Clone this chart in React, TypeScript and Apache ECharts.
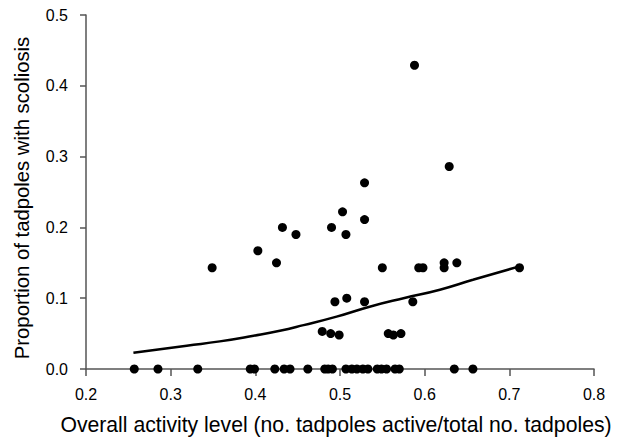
import React, { useEffect, useRef } from "react";
import * as echarts from "echarts";

// Scatter observations: overall activity level vs proportion with scoliosis
const activity = [
  0.257, 0.285, 0.332, 0.394, 0.399, 0.423, 0.434, 0.441, 0.462, 0.482, 0.486, 0.491,
  0.507, 0.514, 0.52, 0.527, 0.533, 0.544, 0.549, 0.555, 0.565, 0.57, 0.635, 0.657,
  0.349, 0.403, 0.425, 0.432, 0.448, 0.479, 0.489, 0.499, 0.49, 0.494, 0.503, 0.507,
  0.508, 0.529, 0.529, 0.529, 0.55, 0.557, 0.563, 0.572, 0.586, 0.588, 0.593, 0.598,
  0.623, 0.623, 0.629, 0.638, 0.712,
];
const scoliosis = [
  0, 0, 0, 0, 0, 0, 0, 0, 0, 0, 0, 0,
  0, 0, 0, 0, 0, 0, 0, 0, 0, 0, 0, 0,
  0.143, 0.167, 0.15, 0.2, 0.19, 0.053, 0.05, 0.048, 0.2, 0.095, 0.222, 0.19,
  0.1, 0.263, 0.211, 0.095, 0.143, 0.05, 0.048, 0.05, 0.095, 0.429, 0.143, 0.143,
  0.15, 0.143, 0.286, 0.15, 0.143,
];

// Fitted curve
const fitX = [0.256, 0.319, 0.358, 0.398, 0.429, 0.457, 0.496, 0.535, 0.575, 0.618, 0.657, 0.712];
const fitY = [0.023, 0.033, 0.039, 0.047, 0.054, 0.062, 0.074, 0.088, 0.1, 0.112, 0.126, 0.145];

const xTitle = "Overall activity level (no. tadpoles active/total no. tadpoles)";
const yTitle = "Proportion of tadpoles with scoliosis";

export default function App() {
  const ref = useRef<HTMLDivElement>(null);
  useEffect(() => {
    if (!ref.current) return;
    const chart = echarts.init(ref.current, undefined, { renderer: "svg" });
    const font = "'Liberation Sans', Arial, sans-serif";
    const axisLine = { show: true, onZero: false, lineStyle: { color: "#555", width: 1.5 } };
    chart.setOption({
      animation: false,
      backgroundColor: "#fff",
      grid: {
        left: 86,
        right: 23,
        top: 15,
        bottom: 69,
        containLabel: false,
        outerBoundsMode: "none",
      },
      graphic: [
        {
          type: "text",
          x: 22,
          y: 198,
          rotation: Math.PI / 2,
          style: {
            text: yTitle,
            fontFamily: font,
            fontSize: 20.3,
            fill: "#000",
            textAlign: "center",
            textVerticalAlign: "middle",
          },
        },
      ],
      xAxis: {
        type: "value",
        min: 0.2,
        max: 0.8,
        interval: 0.1,
        name: xTitle,
        nameLocation: "middle",
        nameGap: 45,
        nameTextStyle: { fontFamily: font, fontSize: 21.2, color: "#000", padding: [0, 8, 0, 0] },
        axisLine,
        axisTick: { show: true, inside: false, length: 7, lineStyle: { color: "#555", width: 1.5 } },
        axisLabel: {
          fontFamily: font,
          fontSize: 16,
          color: "#000",
          margin: 17,
          formatter: (v: number) => v.toFixed(1),
        },
        splitLine: { show: false },
      },
      yAxis: {
        type: "value",
        min: 0,
        max: 0.5,
        interval: 0.1,
        axisLine,
        axisTick: { show: true, inside: false, length: 6, lineStyle: { color: "#555", width: 1.5 } },
        axisLabel: {
          fontFamily: font,
          fontSize: 16,
          color: "#000",
          margin: 18,
          formatter: (v: number) => v.toFixed(1),
        },
        splitLine: { show: false },
      },
      series: [
        {
          type: "line",
          data: fitX.map((x, i) => [x, fitY[i]]),
          smooth: true,
          showSymbol: false,
          lineStyle: { color: "#000", width: 2.5 },
          z: 2,
        },
        {
          type: "scatter",
          data: activity.map((x, i) => [x, scoliosis[i]]),
          symbol: "circle",
          symbolSize: 9,
          itemStyle: { color: "#000", opacity: 1 },
          z: 3,
        },
      ],
    });
    return () => chart.dispose();
  }, []);
  return (
    <div
      ref={ref}
      style={{ position: "absolute", left: 0, top: 0, width: 617, height: 438, background: "#fff" }}
    />
  );
}
